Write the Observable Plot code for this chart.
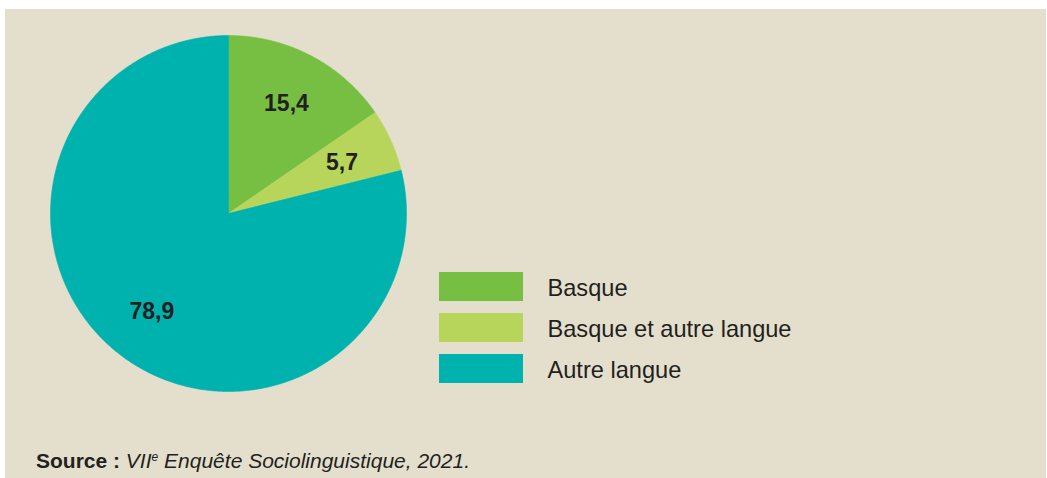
<!DOCTYPE html>
<html>
<head>
<meta charset="utf-8">
<script src="https://cdn.jsdelivr.net/npm/d3@7"></script>
<script src="https://cdn.jsdelivr.net/npm/@observablehq/plot@0.6"></script>
<style>
  html, body { margin: 0; padding: 0; background: #ffffff; }
  #wrap { position: relative; width: 1047px; height: 478px; }
  #panel { position: absolute; left: 5px; top: 9px; width: 1041px; height: 469px; background: #e4dfcd; }
  #chart { position: absolute; left: 0; top: 0; }
  #chart svg { background: transparent; }
</style>
</head>
<body>
<div id="wrap"><div id="panel"></div><div id="chart"></div></div>
<script>
// ---- data ----
const categories = ["Basque", "Basque et autre langue", "Autre langue"];
const values = [15.4, 5.7, 78.9];
const valueLabels = ["15,4", "5,7", "78,9"];
const colors = ["#76bf43", "#b8d55b", "#00b2ae"];

// ---- layout ----
const W = 1047, H = 478;
const cx = 228, cy = 213, R = 178;
const labelR = 0.7 * R;
const legX1 = 439, legX2 = 523, legY0 = 272, legStep = 41, legH = 29, legTextX = 547;
const textColor = "#231f20";
const font = "'Liberation Sans', Arial, Helvetica, sans-serif";

const pie = d3.pie().sort(null).value(d => d.value).startAngle(0).endAngle(2 * Math.PI);
const table = categories.map((c, i) => ({category: c, value: values[i], label: valueLabels[i], color: colors[i], index: i}));
const arcs = pie(table);

const pts = [];
for (const a of arcs) {
  const n = Math.max(4, Math.ceil((a.endAngle - a.startAngle) / (Math.PI / 360)));
  pts.push({cat: a.data.category, color: a.data.color, x: cx, y: cy});
  for (let k = 0; k <= n; k++) {
    const t = a.startAngle + (a.endAngle - a.startAngle) * k / n;
    pts.push({cat: a.data.category, color: a.data.color, x: cx + R * Math.sin(t), y: cy - R * Math.cos(t)});
  }
  pts.push({cat: a.data.category, color: a.data.color, x: cx, y: cy});
}
const labels = arcs.map(a => {
  const m = (a.startAngle + a.endAngle) / 2;
  return {text: a.data.label, x: cx + labelR * Math.sin(m), y: cy - labelR * Math.cos(m)};
});

const plot = Plot.plot({
  width: W, height: H,
  margin: 0,
  x: {type: "identity", axis: null},
  y: {type: "identity", axis: null},
  style: {background: "transparent", fontFamily: font},
  marks: [
    Plot.line(pts, {x: "x", y: "y", z: "cat", fill: d => d.color, stroke: d => d.color, strokeWidth: 0.6, curve: "linear"}),
    Plot.text(labels, {x: "x", y: "y", text: "text", fontSize: 23, fontWeight: "bold", fill: textColor, fontFamily: font}),
    Plot.rect(table, {x1: () => legX1, x2: () => legX2, y1: d => legY0 + d.index * legStep, y2: d => legY0 + d.index * legStep + legH, fill: "color"}),
    Plot.text(table, {x: () => legTextX, y: d => legY0 + d.index * legStep + legH / 2 + 1, text: "category", textAnchor: "start", fontSize: 23.6, fill: textColor, fontFamily: font})
  ]
});
document.getElementById("chart").appendChild(plot);

// source line
const svg = d3.select(plot);
const src = svg.append("text").attr("x", 36).attr("y", 468).attr("text-anchor", "start")
  .attr("font-family", font).attr("font-size", 21).attr("fill", textColor);
src.append("tspan").attr("font-weight", "bold").text("Source : ");
src.append("tspan").attr("font-style", "italic").text("VII");
src.append("tspan").attr("font-style", "italic").attr("font-size", 12).attr("dy", -7).text("e");
src.append("tspan").attr("font-style", "italic").attr("dy", 7).text(" Enquête Sociolinguistique, 2021.");
</script>
</body>
</html>
